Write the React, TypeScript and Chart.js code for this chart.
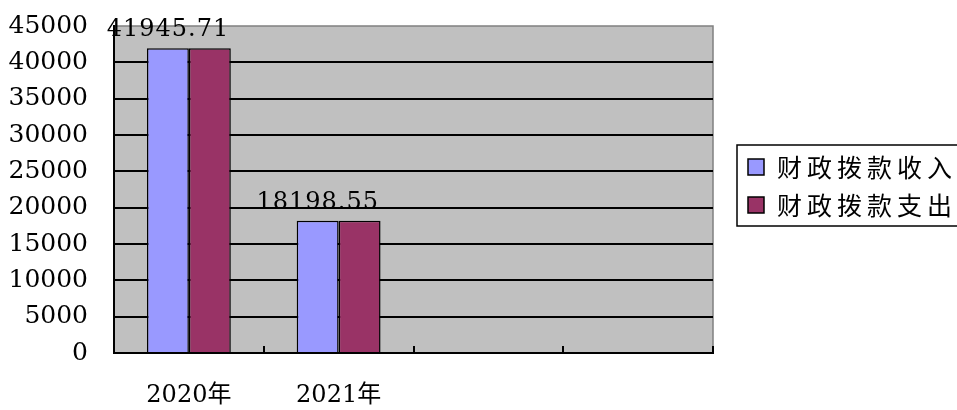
import React, { useEffect, useRef } from "react";
import { Chart, registerables } from "chart.js";

Chart.register(...registerables);

const categories = ["2020年", "2021年", "", ""];
const incomeValues = [41945.71, 18198.55, null, null];
const expenseValues = [41945.71, 18198.55, null, null];
const seriesNames = ["财政拨款收入", "财政拨款支出"];
const seriesColors = ["#9999FF", "#993366"];
const yMax = 45000;
const yStep = 5000;

const SERIF = "'DejaVu Serif', 'Noto Sans CJK SC', serif";
const CJK = "'Noto Sans CJK SC', sans-serif";

export default function App() {
  const ref = useRef<HTMLCanvasElement | null>(null);

  useEffect(() => {
    if (!ref.current) return;

    const plotBg = {
      id: "plotBg",
      beforeDraw(chart: any) {
        const { ctx, chartArea: a } = chart;
        ctx.save();
        ctx.fillStyle = "#C0C0C0";
        ctx.fillRect(a.left, a.top, a.right - a.left, a.bottom - a.top);
        ctx.strokeStyle = "#808080";
        ctx.lineWidth = 1.5;
        ctx.strokeRect(a.left, a.top, a.right - a.left, a.bottom - a.top);
        ctx.restore();
      },
    };

    const dataLabels = {
      id: "dataLabels",
      afterDatasetsDraw(chart: any) {
        const { ctx } = chart;
        const meta = chart.getDatasetMeta(0);
        ctx.save();
        ctx.font = `24px ${SERIF}`;
        (ctx as any).letterSpacing = "1px";
        ctx.fillStyle = "#000";
        ctx.textAlign = "center";
        ctx.textBaseline = "alphabetic";
        meta.data.forEach((bar: any, i: number) => {
          const v = incomeValues[i];
          if (v == null) return;
          ctx.fillText(v.toFixed(2), bar.x, bar.y - 12);
        });
        ctx.restore();
      },
    };

    const boxLegend = {
      id: "boxLegend",
      afterDraw(chart: any) {
        const { ctx } = chart;
        ctx.save();
        ctx.strokeStyle = "#000";
        ctx.lineWidth = 1.5;
        ctx.fillStyle = "#fff";
        ctx.fillRect(737, 145, 240, 81);
        ctx.strokeRect(737, 145, 240, 81);
        ctx.font = `25px ${CJK}`;
        (ctx as any).letterSpacing = "5px";
        ctx.textBaseline = "middle";
        ctx.textAlign = "left";
        chart.data.datasets.forEach((ds: any, i: number) => {
          const cy = 167 + i * 38;
          ctx.fillStyle = ds.backgroundColor;
          ctx.fillRect(748, cy - 8, 16, 16);
          ctx.lineWidth = 1.5;
          ctx.strokeRect(748, cy - 8, 16, 16);
          ctx.fillStyle = "#000";
          ctx.fillText(ds.label, 777, cy);
        });
        ctx.restore();
      },
    };

    const chart = new Chart(ref.current, {
      type: "bar",
      data: {
        labels: categories,
        datasets: [
          {
            label: seriesNames[0],
            data: incomeValues,
            backgroundColor: seriesColors[0],
            borderColor: "#000",
            borderWidth: 1.5,
            categoryPercentage: 0.56,
            barPercentage: 1,
          },
          {
            label: seriesNames[1],
            data: expenseValues,
            backgroundColor: seriesColors[1],
            borderColor: "#000",
            borderWidth: 1.5,
            categoryPercentage: 0.56,
            barPercentage: 1,
          },
        ],
      },
      options: {
        animation: false,
        responsive: true,
        maintainAspectRatio: false,
        devicePixelRatio: 1,
        layout: { padding: { top: 26, right: 244, left: 0, bottom: 0 } },
        plugins: {
          legend: { display: false },
          tooltip: { enabled: false },
        },
        scales: {
          x: {
            offset: true,
            grid: {
              offset: true,
              drawOnChartArea: false,
              drawTicks: true,
              tickLength: -7,
              color: "#000",
              lineWidth: 2,
            },
            border: { display: true, color: "#000", width: 2 },
            ticks: {
              color: "#000",
              font: { family: SERIF, size: 24 },
              padding: 35,
              maxRotation: 0,
              autoSkip: false,
            },
            afterFit(scale: any) {
              scale.height = 57;
              scale.paddingTop = 0;
              scale.paddingBottom = 0;
            },
          },
          y: {
            min: 0,
            max: yMax,
            ticks: {
              stepSize: yStep,
              color: "#000",
              font: { family: SERIF, size: 25 },
              padding: 26,
              callback: (v: any) => String(v),
            },
            grid: {
              drawTicks: false,
              color: (c: any) => (c.tick && c.tick.value === yMax ? "rgba(0,0,0,0)" : "#000"),
              lineWidth: 2,
            },
            border: { display: true, color: "#000", width: 2 },
            afterFit(scale: any) {
              scale.width = 114;
              scale.paddingTop = 0;
              scale.paddingBottom = 0;
            },
          },
        },
      },
      plugins: [plotBg, dataLabels, boxLegend],
    });

    return () => chart.destroy();
  }, []);

  return (
    <div style={{ position: "fixed", left: 0, top: 0, width: 957, height: 410, background: "#fff" }}>
      <canvas ref={ref} />
    </div>
  );
}
